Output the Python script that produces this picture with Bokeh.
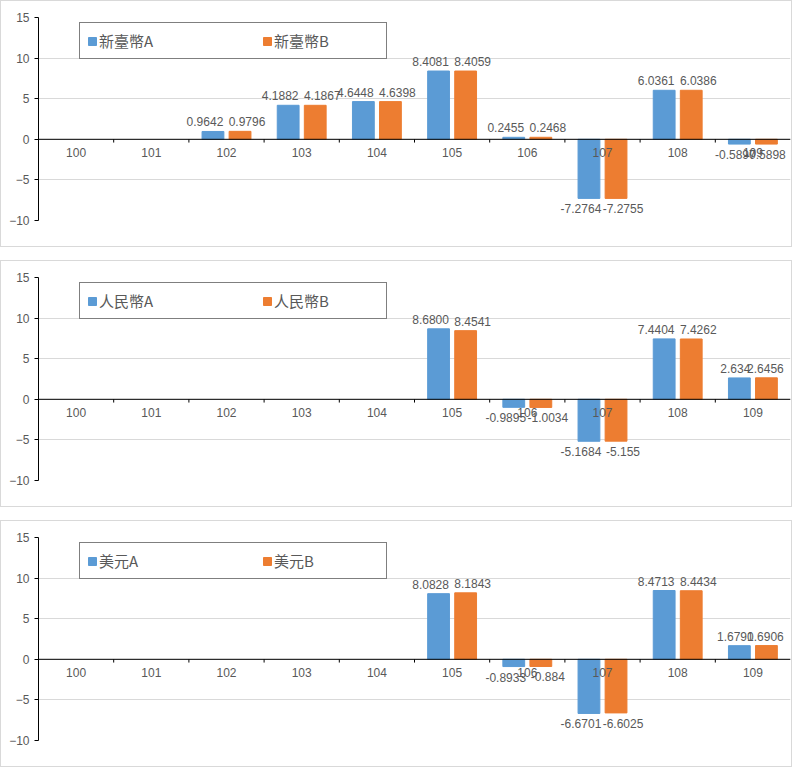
from bokeh.plotting import figure
from bokeh.layouts import column
from bokeh.models import ColumnDataSource, Span, Legend, LegendItem, FixedTicker
from bokeh.core.properties import value
from bokeh.embed import file_html
from bokeh.resources import INLINE

NA = float("nan")
years = ["100", "101", "102", "103", "104", "105", "106", "107", "108", "109"]

twd_a = [NA, NA, 0.9642, 4.1882, 4.6448, 8.4081, 0.2455, -7.2764, 6.0361, -0.5897]
twd_b = [NA, NA, 0.9796, 4.1867, 4.6398, 8.4059, 0.2468, -7.2755, 6.0386, -0.5898]
twd_a_lbl = ["", "", "0.9642", "4.1882", "4.6448", "8.4081", "0.2455", "-7.2764", "6.0361", "-0.5897"]
twd_b_lbl = ["", "", "0.9796", "4.1867", "4.6398", "8.4059", "0.2468", "-7.2755", "6.0386", "-0.5898"]

cny_a = [NA, NA, NA, NA, NA, 8.68, -0.9895, -5.1684, 7.4404, 2.634]
cny_b = [NA, NA, NA, NA, NA, 8.4541, -1.0034, -5.155, 7.4262, 2.6456]
cny_a_lbl = ["", "", "", "", "", "8.6800", "-0.9895", "-5.1684", "7.4404", "2.634"]
cny_b_lbl = ["", "", "", "", "", "8.4541", "-1.0034", "-5.155", "7.4262", "2.6456"]

usd_a = [NA, NA, NA, NA, NA, 8.0828, -0.8933, -6.6701, 8.4713, 1.6790]
usd_b = [NA, NA, NA, NA, NA, 8.1843, -0.884, -6.6025, 8.4434, 1.6906]
usd_a_lbl = ["", "", "", "", "", "8.0828", "-0.8933", "-6.6701", "8.4713", "1.6790"]
usd_b_lbl = ["", "", "", "", "", "8.1843", "-0.884", "-6.6025", "8.4434", "1.6906"]

BLUE = "#5B9BD5"
ORANGE = "#ED7D31"
GREY = "#595959"
FONT = "Noto Sans CJK TC"
NUMFONT = "Liberation Sans"


def panel(a, b, a_lbl, b_lbl, name):
    p = figure(width=792, height=247, x_range=(-0.5, 9.5), y_range=(-10, 15),
               output_backend="svg", toolbar_location=None,
               min_border_left=37, min_border_right=3, min_border_top=16, min_border_bottom=28)
    p.styles = {"border": "1px solid #d9d9d9"}
    p.outline_line_color = None
    p.xaxis.visible = False
    p.xgrid.grid_line_color = None
    p.ygrid.grid_line_color = "#d9d9d9"
    p.yaxis.ticker = FixedTicker(ticks=[-10, -5, 0, 5, 10, 15])
    p.yaxis.major_label_text_font = NUMFONT
    p.yaxis.major_label_text_font_size = "12px"
    p.yaxis.major_label_text_color = GREY
    p.yaxis.axis_line_color = "black"
    p.yaxis.major_tick_line_color = "black"
    p.yaxis.major_tick_in = 0
    p.yaxis.major_tick_out = 4
    p.yaxis.minor_tick_line_color = None

    xs = list(range(len(years)))
    src = ColumnDataSource(dict(xa=[x - 0.18 for x in xs], xb=[x + 0.18 for x in xs], a=a, b=b))
    ra = p.vbar(x="xa", top="a", width=0.29, color=BLUE, source=src)
    rb = p.vbar(x="xb", top="b", width=0.29, color=ORANGE, source=src)

    p.add_layout(Span(location=0, dimension="width", line_color="black", line_width=1))
    p.segment(x0=[x + 0.5 for x in xs[:-1]], x1=[x + 0.5 for x in xs[:-1]],
              y0=[0] * 9, y1=[-0.4] * 9, line_color="black")
    p.text(x=xs, y=[0] * len(xs), text=years, text_align="center", text_baseline="top",
           y_offset=9, text_font=value(NUMFONT), text_font_size="12px", text_color=GREY)

    for key in ("a", "b"):
        vals = a if key == "a" else b
        lbls = a_lbl if key == "a" else b_lbl
        off = -0.18 if key == "a" else 0.18
        for sign, base, yo in ((1, "bottom", -5), (-1, "top", 6)):
            idx = [i for i in xs if lbls[i] and (vals[i] >= 0) == (sign > 0)]
            if key == "a":
                xo = [-8 if i < 9 else -4 for i in idx]
            else:
                xo = [7 if i < 9 else -1 for i in idx]
            s = ColumnDataSource(dict(x=[i + off for i in idx], y=[vals[i] for i in idx],
                                      t=[lbls[i] for i in idx], xo=xo))
            p.text(x="x", y="y", text="t", x_offset="xo", source=s,
                   text_align="center", text_baseline=base, y_offset=yo,
                   text_font=value(NUMFONT), text_font_size="12px", text_color=GREY)

    legend = Legend(items=[LegendItem(label=name + "A", renderers=[ra]),
                           LegendItem(label=name + "B", renderers=[rb])],
                    location=(41, 161), orientation="horizontal")
    legend.border_line_color = "black"
    legend.border_line_width = 1
    legend.background_fill_alpha = 1
    legend.glyph_width = 10
    legend.glyph_height = 10
    legend.label_text_font = FONT
    legend.label_text_font_size = "15px"
    legend.label_text_color = GREY
    legend.label_standoff = 2
    legend.label_width = 105
    legend.spacing = 58
    legend.padding = 7
    legend.margin = 0
    legend.label_height = 19
    p.add_layout(legend)
    return p


p1 = panel(twd_a, twd_b, twd_a_lbl, twd_b_lbl, "新臺幣")
p2 = panel(cny_a, cny_b, cny_a_lbl, cny_b_lbl, "人民幣")
p3 = panel(usd_a, usd_b, usd_a_lbl, usd_b_lbl, "美元")
p = column(p1, p2, p3, spacing=13)

open("out.html", "w").write(file_html(p, INLINE))
